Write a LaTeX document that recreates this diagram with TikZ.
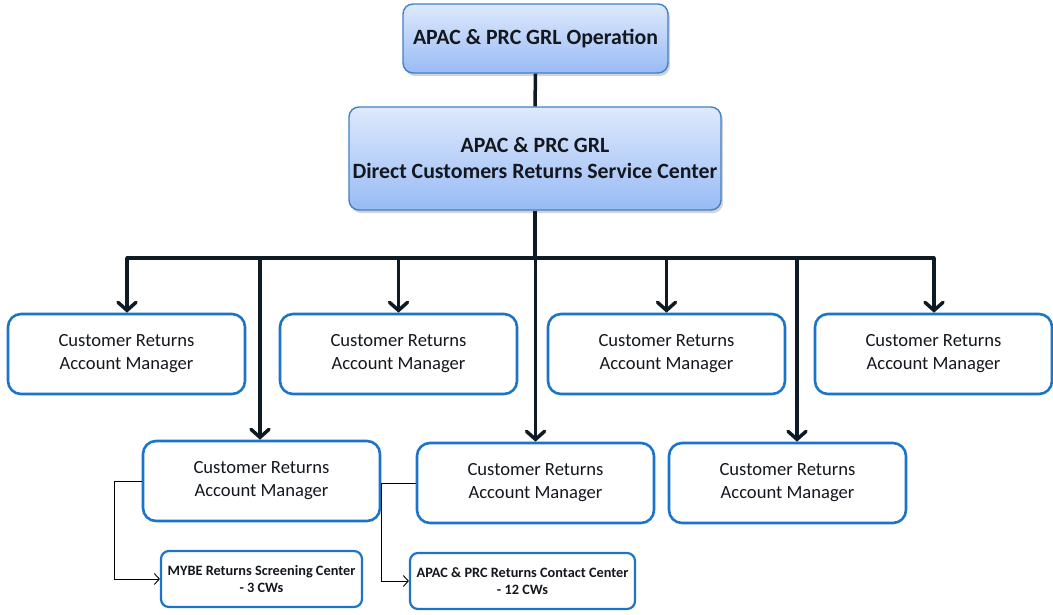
\documentclass[tikz,border=0pt]{standalone}
\usepackage{fontspec}
\setmainfont{Carlito}
\usetikzlibrary{arrows.meta,shadows}
\definecolor{headblue}{RGB}{66,128,196}
\definecolor{headtop}{RGB}{222,233,252}
\definecolor{headbot}{RGB}{152,187,245}
\definecolor{mgrblue}{RGB}{28,116,200}
\definecolor{linedark}{RGB}{14,26,36}
\definecolor{textdark}{RGB}{20,24,30}

\begin{document}
\begin{tikzpicture}[x=1pt,y=-1pt,
    headbox/.style={draw=headblue, line width=1.4pt, rounded corners=10pt,
        top color=headtop, bottom color=headbot, text=textdark,
        drop shadow={shadow xshift=2pt, shadow yshift=-3pt, opacity=0.35},
        align=center, inner sep=0pt, font=\bfseries\fontsize{21.8}{26}\selectfont},
    mgrbox/.style={draw=mgrblue, line width=2.6pt, rounded corners=13pt, fill=white,
        text=textdark, minimum width=237pt, minimum height=80pt, inner sep=0pt,
        align=center, font=\fontsize{18.6}{23}\selectfont},
    ctrbox/.style={draw=mgrblue, line width=2.2pt, rounded corners=8pt, fill=white,
        text=textdark, minimum height=56pt, inner sep=0pt,
        align=center, font=\bfseries\fontsize{14.3}{16.5}\selectfont},
    trunk/.style={draw=linedark, line width=3.5pt},
    feed/.style={trunk, -{Straight Barb[length=8pt,width=18pt,line cap=round]}},
    side/.style={draw=black, line width=0.9pt, -{Straight Barb[length=5pt,width=11pt]}}]

\useasboundingbox (0,0) rectangle (1053,614);

\node[headbox, minimum width=265pt, minimum height=69pt] (ops) at (535.5,38.5)
    {APAC \& PRC GRL Operation};
\node[headbox, minimum width=372pt, minimum height=103pt] (center) at (535,158.5)
    {APAC \& PRC GRL\\Direct Customers Returns Service Center};

\node[mgrbox] (mgrA) at (126.5,354) {Customer Returns\\Account Manager};
\node[mgrbox] (mgrB) at (398.5,354) {Customer Returns\\Account Manager};
\node[mgrbox] (mgrC) at (666.5,354) {Customer Returns\\Account Manager};
\node[mgrbox] (mgrD) at (933.5,354) {Customer Returns\\Account Manager};
\node[mgrbox] (mgrE) at (261.5,481) {Customer Returns\\Account Manager};
\node[mgrbox] (mgrF) at (535.5,483) {Customer Returns\\Account Manager};
\node[mgrbox] (mgrG) at (787.5,483) {Customer Returns\\Account Manager};

\node[ctrbox, minimum width=201pt] (mybe) at (261.5,579)
    {MYBE Returns Screening Center\\- 3 CWs};
\node[ctrbox, minimum width=225pt] (contact) at (522.5,581)
    {APAC \& PRC Returns Contact Center\\- 12 CWs};

\coordinate (busL) at (127,258);
\coordinate (busR) at (934,258);
\coordinate (dropE) at (260,258);
\coordinate (dropG) at (797,258);

\draw[trunk] (ops.south) -- (center.north);
\draw[trunk] (center.south) -- (center.south |- busL);
\draw[trunk, line cap=round] (busL) -- (busR);

\draw[feed] (busL) -- (busL |- mgrA.north);
\draw[feed] (mgrB.north |- busL) -- (mgrB.north);
\draw[feed] (mgrC.north |- busL) -- (mgrC.north);
\draw[feed] (busR) -- (busR |- mgrD.north);
\draw[feed] (dropE) -- (dropE |- mgrE.north);
\draw[feed] (mgrF.north |- busL) -- (mgrF.north);
\draw[feed] (dropG) -- (dropG |- mgrG.north);

\draw[side] (mgrE.west) -- ++(-27,0) |- (mybe.west);
\draw[side] (mgrF.west) -- ++(-34,0) |- (contact.west);
\end{tikzpicture}
\end{document}
